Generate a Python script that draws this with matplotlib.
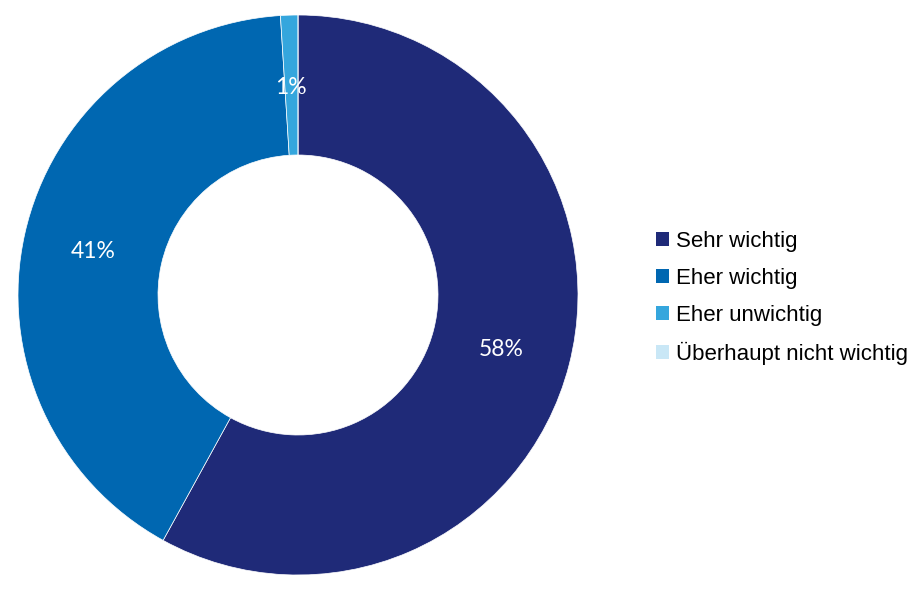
import matplotlib.pyplot as plt
from matplotlib.patches import Patch
import numpy as np

plt.rcParams['font.family'] = ['Liberation Sans', 'DejaVu Sans']

# Daten
categories = ['Sehr wichtig', 'Eher wichtig', 'Eher unwichtig', 'Überhaupt nicht wichtig']
values = [58, 41, 1, 0]
labels = ['58%', '41%', '1%', '']
colors = ['#1F2A78', '#0067B1', '#35A6DD', '#C9E7F6']

fig = plt.figure(figsize=(9.2, 5.95), dpi=100)
ax = fig.add_axes([18 / 920, 20 / 595, 560 / 920, 560 / 595])

wedges, texts = ax.pie(values, colors=colors, startangle=90, counterclock=False,
                       radius=1, wedgeprops=dict(width=0.5, edgecolor='white', linewidth=0.5))

# Prozent-Beschriftungen in der Mitte des Rings
for w, lab in zip(wedges, labels):
    if not lab:
        continue
    ang = np.deg2rad((w.theta1 + w.theta2) / 2)
    ax.text(0.75 * np.cos(ang), 0.75 * np.sin(ang), lab, color='white',
            fontsize=16.5, family=['Lato', 'DejaVu Sans'], ha='center', va='center_baseline')

ax.set_xlim(-1, 1)
ax.set_ylim(-1, 1)
ax.set_aspect('equal')
ax.axis('off')

handles = [Patch(facecolor=c, edgecolor='none') for c in colors]
fig.legend(handles, categories, loc='center left', bbox_to_anchor=(656 / 920, 1 - 298 / 595),
           frameon=False, fontsize=16, handlelength=0.6, handleheight=0.6,
           handletextpad=0.3, labelspacing=0.72, borderpad=0, borderaxespad=0)

fig.savefig('out.png', dpi=100)
